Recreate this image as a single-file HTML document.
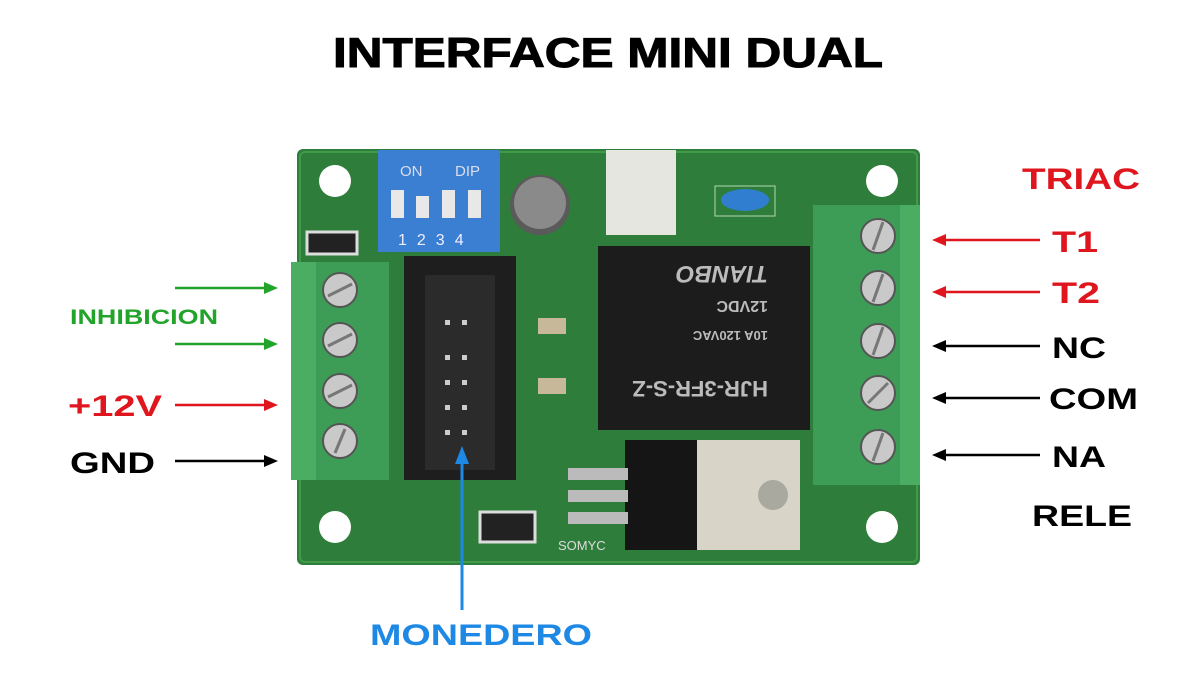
<!DOCTYPE html>
<html><head><style>
body{margin:0;background:#fff;width:1200px;height:694px;overflow:hidden;font-family:"Liberation Sans",Arial,sans-serif}
</style></head><body>
<svg width="1200" height="694" viewBox="0 0 1200 694" xmlns="http://www.w3.org/2000/svg">
<text x="333" y="67" textLength="550" lengthAdjust="spacingAndGlyphs" font-size="42" font-weight="bold" fill="#000" font-family="Liberation Sans" stroke="#000" stroke-width="1">INTERFACE MINI DUAL</text>
<!-- board -->
<rect x="297" y="149" width="623" height="416" rx="6" fill="#2f7d3a"/>
<rect x="300" y="152" width="617" height="410" rx="5" fill="none" stroke="#3f9a4a" stroke-width="2"/>
<g fill="#fff"><circle cx="335" cy="181" r="16"/><circle cx="882" cy="181" r="16"/><circle cx="335" cy="527" r="16"/><circle cx="882" cy="527" r="16"/></g>
<!-- left terminal -->
<rect x="291" y="262" width="98" height="218" fill="#3d9c55"/>
<rect x="291" y="262" width="25" height="218" fill="#4aad62"/>
<g fill="#c9c9c9" stroke="#555" stroke-width="2"><circle cx="340" cy="290" r="17"/><circle cx="340" cy="340" r="17"/><circle cx="340" cy="391" r="17"/><circle cx="340" cy="441" r="17"/></g>
<g stroke="#777" stroke-width="3"><line x1="328" y1="296" x2="352" y2="284"/><line x1="328" y1="346" x2="352" y2="334"/><line x1="328" y1="397" x2="352" y2="385"/><line x1="335" y1="453" x2="345" y2="429"/></g>
<rect x="307" y="232" width="50" height="22" fill="#222" stroke="#ddd" stroke-width="3"/>
<!-- right terminal -->
<rect x="813" y="205" width="107" height="280" fill="#3d9c55"/>
<rect x="900" y="205" width="20" height="280" fill="#4aad62"/>
<g fill="#c9c9c9" stroke="#555" stroke-width="2"><circle cx="878" cy="236" r="17"/><circle cx="878" cy="288" r="17"/><circle cx="878" cy="341" r="17"/><circle cx="878" cy="393" r="17"/><circle cx="878" cy="447" r="17"/></g>
<g stroke="#777" stroke-width="3"><line x1="873" y1="250" x2="883" y2="222"/><line x1="873" y1="302" x2="883" y2="274"/><line x1="873" y1="355" x2="883" y2="327"/><line x1="868" y1="403" x2="888" y2="383"/><line x1="873" y1="461" x2="883" y2="433"/></g>
<!-- dip -->
<rect x="378" y="150" width="122" height="102" fill="#3a7fd2"/>
<g fill="#e8e8e8"><rect x="391" y="190" width="13" height="28"/><rect x="416" y="196" width="13" height="22"/><rect x="442" y="190" width="13" height="28"/><rect x="468" y="190" width="13" height="28"/></g>
<text x="400" y="176" font-size="15" fill="#dde" font-family="Liberation Sans">ON</text><text x="455" y="176" font-size="15" fill="#dde" font-family="Liberation Sans">DIP</text>
<text x="398" y="245" font-size="16" fill="#eef" font-family="Liberation Sans" letter-spacing="10">1234</text>
<!-- cap -->
<circle cx="540" cy="205" r="30" fill="#5a5a5a"/><circle cx="540" cy="203" r="26" fill="#8a8a8a"/>
<!-- opto -->
<rect x="606" y="150" width="70" height="85" fill="#e6e6e0"/>
<!-- blue cap -->
<rect x="715" y="186" width="60" height="30" fill="none" stroke="#b0d8b0"/><ellipse cx="745" cy="200" rx="24" ry="11" fill="#2f7ed0"/>
<!-- idc -->
<rect x="404" y="256" width="112" height="224" fill="#1e1e1e"/>
<rect x="425" y="275" width="70" height="195" fill="#2b2b2b"/>
<g fill="#ccc"><rect x="445" y="355" width="5" height="5"/><rect x="462" y="355" width="5" height="5"/><rect x="445" y="380" width="5" height="5"/><rect x="462" y="380" width="5" height="5"/><rect x="445" y="405" width="5" height="5"/><rect x="462" y="405" width="5" height="5"/><rect x="445" y="430" width="5" height="5"/><rect x="462" y="430" width="5" height="5"/><rect x="445" y="320" width="5" height="5"/><rect x="462" y="320" width="5" height="5"/></g>
<!-- relay -->
<rect x="598" y="246" width="212" height="184" fill="#1c1c1c"/>
<g fill="#bbb" font-family="Liberation Sans" font-weight="bold" transform="rotate(180 704 338)">
<text x="640" y="295" font-size="22">HJR-3FR-S-Z</text>
<text x="640" y="345" font-size="13">10A 120VAC</text>
<text x="640" y="375" font-size="16">12VDC</text>
<text x="640" y="410" font-size="24" font-style="italic">TIANBO</text></g>
<!-- leds -->
<rect x="538" y="318" width="28" height="16" fill="#c8b89a"/><rect x="538" y="378" width="28" height="16" fill="#c8b89a"/>
<!-- regulator -->
<rect x="625" y="440" width="72" height="110" fill="#151515"/>
<rect x="697" y="440" width="103" height="110" fill="#d8d4c8"/>
<circle cx="773" cy="495" r="15" fill="#a9a9a0"/>
<g fill="#bbb"><rect x="568" y="468" width="60" height="12"/><rect x="568" y="490" width="60" height="12"/><rect x="568" y="512" width="60" height="12"/></g>
<rect x="480" y="512" width="55" height="30" fill="#222" stroke="#ddd" stroke-width="3"/>
<text x="558" y="550" font-size="13" fill="#ddd" font-family="Liberation Sans">SOMYC</text>
<!-- left arrows -->
<g stroke-width="2.5">
<line x1="175" y1="288" x2="268" y2="288" stroke="#22a32a"/><path d="M278,288 L264,282 L264,294 z" fill="#22a32a"/>
<line x1="175" y1="344" x2="268" y2="344" stroke="#22a32a"/><path d="M278,344 L264,338 L264,350 z" fill="#22a32a"/>
<line x1="175" y1="405" x2="268" y2="405" stroke="#e0161e"/><path d="M278,405 L264,399 L264,411 z" fill="#e0161e"/>
<line x1="175" y1="461" x2="268" y2="461" stroke="#000"/><path d="M278,461 L264,455 L264,467 z" fill="#000"/>
</g>
<g font-family="Liberation Sans" font-weight="bold" lengthAdjust="spacingAndGlyphs">
<text x="70" y="324" font-size="21" fill="#22a32a" textLength="148" lengthAdjust="spacingAndGlyphs">INHIBICION</text>
<text x="68" y="416" font-size="30" fill="#e0161e" textLength="94" lengthAdjust="spacingAndGlyphs">+12V</text>
<text x="70" y="473" font-size="30" fill="#000" textLength="85" lengthAdjust="spacingAndGlyphs">GND</text>
</g>
<!-- right arrows -->
<g stroke-width="2.5">
<line x1="945" y1="240" x2="1040" y2="240" stroke="#e0161e"/><path d="M932,240 L946,234 L946,246 z" fill="#e0161e"/>
<line x1="945" y1="292" x2="1040" y2="292" stroke="#e0161e"/><path d="M932,292 L946,286 L946,298 z" fill="#e0161e"/>
<line x1="945" y1="346" x2="1040" y2="346" stroke="#000"/><path d="M932,346 L946,340 L946,352 z" fill="#000"/>
<line x1="945" y1="398" x2="1040" y2="398" stroke="#000"/><path d="M932,398 L946,392 L946,404 z" fill="#000"/>
<line x1="945" y1="455" x2="1040" y2="455" stroke="#000"/><path d="M932,455 L946,449 L946,461 z" fill="#000"/>
</g>
<g font-family="Liberation Sans" font-weight="bold" font-size="30">
<text x="1022" y="189" fill="#e0161e" textLength="118" lengthAdjust="spacingAndGlyphs">TRIAC</text>
<text x="1052" y="252" fill="#e0161e" textLength="46" lengthAdjust="spacingAndGlyphs">T1</text>
<text x="1052" y="303" fill="#e0161e" textLength="48" lengthAdjust="spacingAndGlyphs">T2</text>
<text x="1052" y="358" fill="#000" textLength="54" lengthAdjust="spacingAndGlyphs">NC</text>
<text x="1049" y="409" fill="#000" textLength="89" lengthAdjust="spacingAndGlyphs">COM</text>
<text x="1052" y="467" fill="#000" textLength="54" lengthAdjust="spacingAndGlyphs">NA</text>
<text x="1032" y="526" fill="#000" textLength="100" lengthAdjust="spacingAndGlyphs">RELE</text>
</g>
<!-- monedero -->
<line x1="462" y1="610" x2="462" y2="462" stroke="#1e88e5" stroke-width="3"/>
<path d="M462,446 L455,464 L469,464 z" fill="#1e88e5"/>
<text x="370" y="645" font-family="Liberation Sans" font-weight="bold" font-size="30" fill="#1e88e5" textLength="222" lengthAdjust="spacingAndGlyphs">MONEDERO</text>
</svg>
</body></html>
